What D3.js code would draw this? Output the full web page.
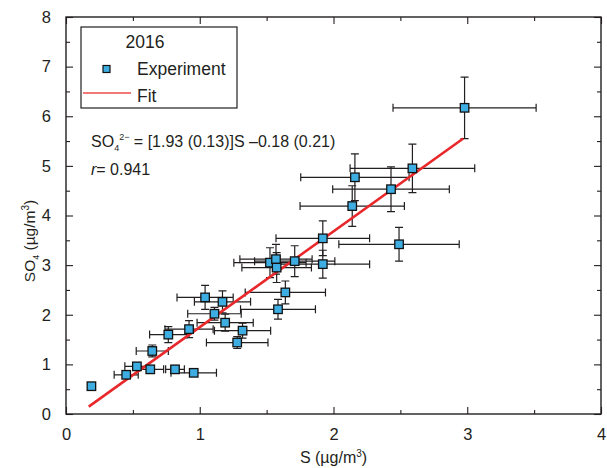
<!DOCTYPE html>
<html>
<head>
<meta charset="utf-8">
<script src="https://cdn.jsdelivr.net/npm/d3@7"></script>
<style>
  body { margin: 0; background: #fff; }
  text { font-family: "Liberation Sans", Arial, sans-serif; fill: #231f20; }
</style>
</head>
<body>
<svg id="chart"></svg>
<script>
// data
var sValues   = [0.19, 0.45, 0.53, 0.63, 0.815, 0.955, 0.645, 0.765, 0.92, 1.04, 1.17, 1.11, 1.19, 1.32, 1.28,
                 1.525, 1.57, 1.575, 1.71, 1.92, 1.64, 1.585, 1.92, 2.49, 2.14, 2.16, 2.43, 2.59, 2.98];
var so4Values = [0.56, 0.79, 0.96, 0.90, 0.90, 0.83, 1.27, 1.60, 1.71, 2.35, 2.26, 2.02, 1.84, 1.68, 1.44,
                 3.05, 3.12, 2.95, 3.08, 3.02, 2.45, 2.11, 3.54, 3.42, 4.19, 4.77, 4.53, 4.95, 6.17];
var sErr      = [0.02, 0.09, 0.09, 0.10, 0.07, 0.17, 0.12, 0.14, 0.18, 0.21, 0.21, 0.20, 0.21, 0.21, 0.23,
                 0.27, 0.27, 0.26, 0.30, 0.35, 0.30, 0.28, 0.35, 0.45, 0.39, 0.405, 0.436, 0.466, 0.535];
var so4Err    = [0.03, 0.05, 0.06, 0.05, 0.05, 0.05, 0.12, 0.16, 0.17, 0.24, 0.22, 0.13, 0.17, 0.15, 0.12,
                 0.30, 0.30, 0.30, 0.31, 0.28, 0.23, 0.20, 0.35, 0.34, 0.41, 0.47, 0.45, 0.49, 0.62];

var fitSlope = 1.93;
var fitIntercept = -0.18;
var fitRange = [0.17, 2.97];

var xTicks = [0, 1, 2, 3, 4];
var yTicks = [0, 1, 2, 3, 4, 5, 6, 7, 8];
var xMinor = [0.5, 1.5, 2.5, 3.5];
var yMinor = [0.5, 1.5, 2.5, 3.5, 4.5, 5.5, 6.5, 7.5];

var screen = {width: 607, height: 468};
var plot = {left: 66, right: 601, top: 17, bottom: 414};
var ink = "#231f20";

var svg = d3.select("#chart")
    .attr("width", screen.width)
    .attr("height", screen.height);

var xScale = d3.scaleLinear().domain([0, 4]).range([plot.left, plot.right]);
var yScale = d3.scaleLinear().domain([0, 8]).range([plot.bottom, plot.top]);

var points = sValues.map(function(s, i){
    return {x: s, y: so4Values[i], xe: sErr[i], ye: so4Err[i]};
});

// axes: ticks point inward on all four sides
var styleAxis = function(g){
    g.select(".domain").remove();
    g.selectAll(".tick line").attr("stroke", ink).attr("stroke-width", 1.1);
    g.selectAll(".tick text").attr("font-size", 16.5).attr("fill", ink)
        .style("font-family", "'Liberation Sans', Arial, sans-serif");
}

svg.append("g").attr("transform", "translate(0," + plot.bottom + ")")
    .call(d3.axisBottom(xScale).tickValues(xTicks).tickFormat(d3.format("d")).tickSize(-7).tickPadding(14))
    .call(styleAxis);
svg.append("g").attr("transform", "translate(0," + plot.bottom + ")")
    .call(d3.axisBottom(xScale).tickValues(xMinor).tickFormat("").tickSize(-4))
    .call(styleAxis);
svg.append("g").attr("transform", "translate(0," + plot.top + ")")
    .call(d3.axisTop(xScale).tickValues(xTicks).tickFormat("").tickSize(-7))
    .call(styleAxis);
svg.append("g").attr("transform", "translate(0," + plot.top + ")")
    .call(d3.axisTop(xScale).tickValues(xMinor).tickFormat("").tickSize(-4))
    .call(styleAxis);

svg.append("g").attr("transform", "translate(" + plot.left + ",0)")
    .call(d3.axisLeft(yScale).tickValues(yTicks).tickFormat(d3.format("d")).tickSize(-7).tickPadding(15))
    .call(styleAxis);
svg.append("g").attr("transform", "translate(" + plot.left + ",0)")
    .call(d3.axisLeft(yScale).tickValues(yMinor).tickFormat("").tickSize(-4))
    .call(styleAxis);
svg.append("g").attr("transform", "translate(" + plot.right + ",0)")
    .call(d3.axisRight(yScale).tickValues(yTicks).tickFormat("").tickSize(-7))
    .call(styleAxis);
svg.append("g").attr("transform", "translate(" + plot.right + ",0)")
    .call(d3.axisRight(yScale).tickValues(yMinor).tickFormat("").tickSize(-4))
    .call(styleAxis);

// frame
svg.append("rect")
    .attr("x", plot.left).attr("y", plot.top)
    .attr("width", plot.right - plot.left).attr("height", plot.bottom - plot.top)
    .attr("fill", "none").attr("stroke", ink).attr("stroke-width", 1.4);

// error bars
var cap = 4;
var bars = svg.append("g").attr("stroke", ink).attr("stroke-width", 1.2).attr("fill", "none");
points.forEach(function(d){
    var cx = xScale(d.x), cy = yScale(d.y);
    var x0 = xScale(d.x - d.xe), x1 = xScale(d.x + d.xe);
    var y0 = yScale(d.y - d.ye), y1 = yScale(d.y + d.ye);
    bars.append("path").attr("d",
        "M" + x0 + "," + cy + "H" + x1 +
        "M" + x0 + "," + (cy - cap) + "V" + (cy + cap) +
        "M" + x1 + "," + (cy - cap) + "V" + (cy + cap) +
        "M" + cx + "," + y0 + "V" + y1 +
        "M" + (cx - cap) + "," + y0 + "H" + (cx + cap) +
        "M" + (cx - cap) + "," + y1 + "H" + (cx + cap));
});

// fit line
svg.append("line")
    .attr("x1", xScale(fitRange[0])).attr("y1", yScale(fitSlope * fitRange[0] + fitIntercept))
    .attr("x2", xScale(fitRange[1])).attr("y2", yScale(fitSlope * fitRange[1] + fitIntercept))
    .attr("stroke", "#e8282b").attr("stroke-width", 2.6);

// markers
var ms = 8.5;
svg.append("g").selectAll("rect")
    .data(points)
    .enter()
    .append("rect")
    .attr("x", function(d){ return xScale(d.x) - ms / 2; })
    .attr("y", function(d){ return yScale(d.y) - ms / 2; })
    .attr("width", ms).attr("height", ms)
    .attr("fill", "#3eaee2").attr("stroke", "#111").attr("stroke-width", 1.3);

// axis titles
var xt = svg.append("text").attr("x", (plot.left + plot.right) / 2).attr("y", 463)
    .attr("text-anchor", "middle").attr("font-size", 16);
xt.append("tspan").text("S (\u00b5g/m");
xt.append("tspan").attr("dy", -6).attr("font-size", 10).text("3");
xt.append("tspan").attr("dy", 6).text(")");

var yt = svg.append("text").attr("transform", "translate(35,241) rotate(-90)")
    .attr("text-anchor", "middle").attr("font-size", 15.5);
yt.append("tspan").text("SO");
yt.append("tspan").attr("dy", 4).attr("font-size", 9).text("4");
yt.append("tspan").attr("dy", -4).text(" (\u00b5g/m");
yt.append("tspan").attr("dy", -6).attr("font-size", 10).text("3");
yt.append("tspan").attr("dy", 6).text(")");

// legend
var lg = svg.append("g");
lg.append("rect").attr("x", 81).attr("y", 27).attr("width", 156).attr("height", 81)
    .attr("fill", "#fff").attr("stroke", ink).attr("stroke-width", 1.2);
lg.append("text").attr("x", 145).attr("y", 48).attr("text-anchor", "middle")
    .attr("font-size", 17.5).text("2016");
lg.append("rect").attr("x", 103).attr("y", 65.5).attr("width", 7).attr("height", 7)
    .attr("fill", "#3eaee2").attr("stroke", "#111").attr("stroke-width", 1.2);
lg.append("text").attr("x", 137).attr("y", 75).attr("font-size", 17.5).text("Experiment");
lg.append("line").attr("x1", 83).attr("x2", 131).attr("y1", 93).attr("y2", 93)
    .attr("stroke", "#ec4a4d").attr("stroke-width", 1.3);
lg.append("text").attr("x", 137).attr("y", 102).attr("font-size", 17.5).text("Fit");

// annotation
var eq = svg.append("text").attr("x", 91).attr("y", 147).attr("font-size", 16);
eq.append("tspan").text("SO");
eq.append("tspan").attr("dy", 4).attr("font-size", 9).text("4");
eq.append("tspan").attr("dy", -11).attr("font-size", 9).text("2\u2212");
eq.append("tspan").attr("dy", 7).text(" = [1.93 (0.13)]S \u20130.18 (0.21)");

var rt = svg.append("text").attr("x", 91).attr("y", 175).attr("font-size", 16);
rt.append("tspan").attr("font-style", "italic").text("r");
rt.append("tspan").text("= 0.941");
</script>
</body>
</html>
